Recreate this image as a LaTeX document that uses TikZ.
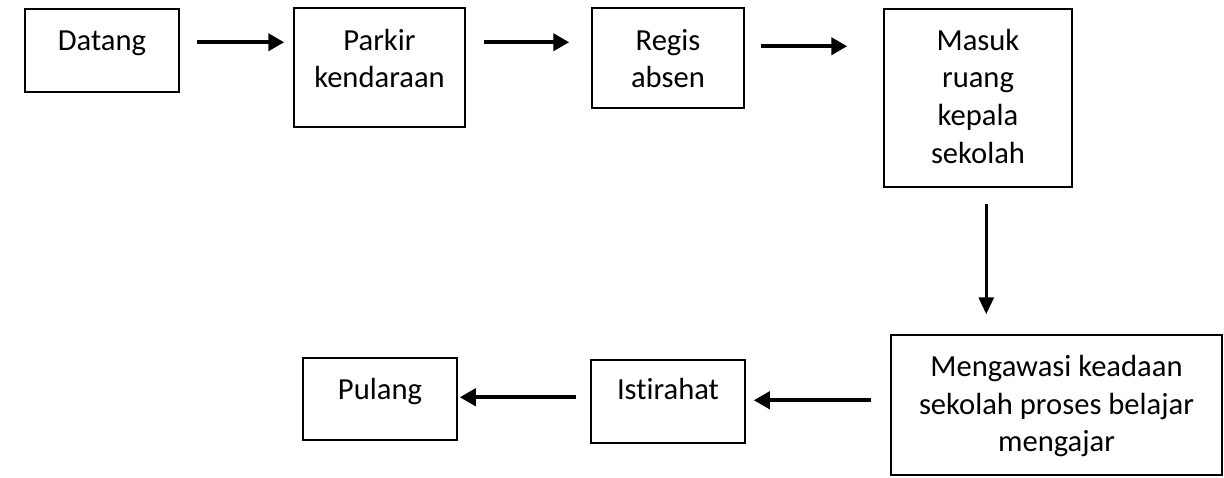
\documentclass[tikz,border=0pt]{standalone}
\usepackage{fontspec}
\setmainfont{Carlito}[Ligatures=NoCommon]
\usetikzlibrary{calc,arrows.meta}
\begin{document}
\begin{tikzpicture}[x=0.5pt,y=-0.5pt,
  box/.style={draw=black,line width=0.75pt,inner sep=0pt,fill=white},
  txt/.style={font=\fontsize{15.3}{18.8}\selectfont,align=center,inner sep=0pt,anchor=north},
  harr/.style={line width=2pt,-{Triangle[length=8pt,width=8.5pt]}},
  varr/.style={line width=1.6pt,-{Triangle[length=8.5pt,width=7.5pt]}}]
\useasboundingbox[fill=white] (0,0) rectangle (1224,477);
% boxes
\node[box,minimum width=77pt,minimum height=41.5pt] (datang) at (102,50.5) {};
\node[box,minimum width=85.5pt,minimum height=59.5pt] (parkir) at (379.5,67.5) {};
\node[box,minimum width=76pt,minimum height=50pt] (regis) at (668,58) {};
\node[box,minimum width=94pt,minimum height=89pt] (masuk) at (978,98) {};
\node[box,minimum width=165.5pt,minimum height=70pt] (awasi) at (1056.5,405) {};
\node[box,minimum width=77pt,minimum height=41.5pt] (istirahat) at (668,401.5) {};
\node[box,minimum width=77pt,minimum height=41pt] (pulang) at (380,399) {};
% texts
\node[txt] (tdatang) at (102,23.5) {\strut Datang};
\node[txt] (tparkir) at (379.5,23.5) {\strut Parkir\\kendaraan};
\node[txt] (tregis) at (668,23.5) {\strut Regis\\absen};
\node[txt] (tmasuk) at (978,23.5) {\strut Masuk\\ruang\\kepala\\sekolah};
\node[txt] (tawasi) at (1056.5,350) {\strut Mengawasi keadaan\\sekolah proses belajar\\mengajar};
\node[txt] (tistirahat) at (668,373) {\strut Istirahat};
\node[txt] (tpulang) at (380,373) {\strut Pulang};
% arrows
\draw[harr] ($(datang.north east)+(17,34)$) -- ($(parkir.north west)+(-9,35)$);
\draw[harr] ($(parkir.north east)+(18,35)$) -- ($(regis.north west)+(-22,35)$);
\draw[harr] ($(regis.north east)+(16,39)$) -- ($(masuk.north west)+(-36,38)$);
\draw[varr] ($(masuk.south west)+(103,16)$) -- ($(awasi.north west)+(96,-20)$);
\draw[harr] ($(awasi.north west)+(-19,66)$) -- ($(istirahat.north east)+(8,41)$);
\draw[harr] ($(istirahat.north west)+(-14,38)$) -- ($(pulang.north east)+(2,40)$);
\end{tikzpicture}
\end{document}
